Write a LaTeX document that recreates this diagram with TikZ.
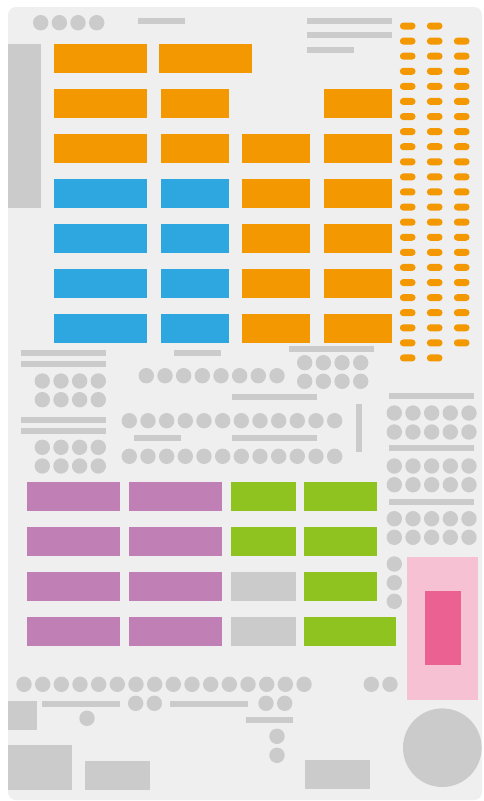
\documentclass[tikz,border=0pt]{standalone}
\usepackage{tikz}
\definecolor{boardgray}{HTML}{EFEFEF}
\definecolor{partgray}{HTML}{CACBCA}
\definecolor{ledorange}{HTML}{F39800}
\definecolor{keyblue}{HTML}{2EA7E0}
\definecolor{keypurple}{HTML}{C080B6}
\definecolor{keygreen}{HTML}{8FC31F}
\definecolor{lightpink}{HTML}{F6C2D3}
\definecolor{hotpink}{HTML}{EB6192}
\newcommand{\padrow}[3]{\foreach \k in {0,...,#3} \fill[partgray] (#1+18.67*\k,#2) circle(7.7pt);}
\newcommand{\silkbar}[3]{\fill[partgray] (#1,#2) rectangle (#3,#2+6);}

\begin{document}
\begin{tikzpicture}[x=1pt,y=-1pt]
	\useasboundingbox (0,0) rectangle (483,801);
	\fill[white] (0,0) rectangle (483,801);
	\fill[boardgray,rounded corners=8pt] (8,7) rectangle (482,800);
	\fill[partgray] (8,44) rectangle (41,208);
	\padrow{40.7}{22.7}{3}
	\silkbar{138}{18}{185}
	\silkbar{307}{18}{392} \silkbar{307}{32}{392} \silkbar{307}{47}{354}
    \fill[ledorange] (54,44) rectangle ++(93,28.7);
    \fill[ledorange] (159,44) rectangle ++(93,28.7);
    \fill[ledorange] (54,89) rectangle ++(93,28.7);
    \fill[ledorange] (161,89) rectangle ++(68,28.7);
    \fill[ledorange] (324,89) rectangle ++(68,28.7);
    \fill[ledorange] (54,134) rectangle ++(93,28.7);
    \fill[ledorange] (161,134) rectangle ++(68,28.7);
	\foreach \y in {179,224,...,314} {
      \fill[keyblue] (54,\y) rectangle ++(93,28.7);
      \fill[keyblue] (161,\y) rectangle ++(68,28.7);
    }
	\foreach \y in {134,179,...,314} {
      \fill[ledorange] (242,\y) rectangle ++(68,28.7);
      \fill[ledorange] (324,\y) rectangle ++(68,28.7);
    }
	\foreach \i in {0,...,22} {
	  \foreach \x in {407.7,434.7} \fill[ledorange,rounded corners=3.5pt] (\x-7.85,26+15.09*\i-3.5) rectangle ++(15.7,7);
	  \ifnum\i>0 \ifnum\i<22 \fill[ledorange,rounded corners=3.5pt] (461.7-7.85,26+15.09*\i-3.5) rectangle ++(15.7,7); \fi\fi
	}
	\silkbar{21}{350}{106} \silkbar{21}{361}{106}
	\silkbar{174}{350}{221}
	\silkbar{289}{346}{374}
	\padrow{42.3}{381}{3} \padrow{42.3}{399.7}{3}
	\padrow{146.3}{375.7}{7}
	\padrow{304.7}{362.7}{3} \padrow{304.7}{381.3}{3}
	\silkbar{232}{394}{317}
	\silkbar{389}{393}{474}
	\silkbar{21}{417}{106} \silkbar{21}{428}{106}
	\padrow{42.3}{447.3}{3} \padrow{42.3}{466}{3}
	\padrow{129.3}{420.7}{11} \padrow{129.3}{456.3}{11}
	\silkbar{134}{435}{181} \silkbar{232}{435}{317}
	\fill[partgray] (356,404) rectangle (361.7,451.7);
	\padrow{394.3}{413}{4} \padrow{394.3}{432}{4}
	\silkbar{389}{445}{474}
	\padrow{394.3}{466}{4} \padrow{394.3}{484.7}{4}
	\silkbar{389}{499}{474}
	\padrow{394.3}{518.7}{4} \padrow{394.3}{537.3}{4}
	\foreach \y in {564,582.7,601.3} \fill[partgray] (394.3,\y) circle(7.7pt);
	\foreach \y in {482,527,572,617} {
      \fill[keypurple] (27,\y) rectangle ++(93,28.7);
      \fill[keypurple] (129,\y) rectangle ++(93,28.7);
    }
	\fill[keygreen] (231,482) rectangle ++(65,28.7);
	\fill[keygreen] (231,527) rectangle ++(65,28.7);
	\fill[partgray] (231,572) rectangle ++(65,28.7);
	\fill[partgray] (231,617) rectangle ++(65,28.7);
	\fill[keygreen] (304,482) rectangle ++(73,28.7);
	\fill[keygreen] (304,527) rectangle ++(73,28.7);
	\fill[keygreen] (304,572) rectangle ++(73,28.7);
	\fill[keygreen] (304,617) rectangle ++(92,28.7);
	\fill[lightpink] (407,557) rectangle (478,699.7);
	\fill[hotpink] (425,591) rectangle (461,664.7);
	\padrow{24}{684.3}{15}
	\padrow{371.3}{684.3}{1}
	\padrow{135.7}{703.3}{1} \padrow{266}{703.3}{1}
	\silkbar{42}{701}{120} \silkbar{170}{701}{248} \silkbar{246}{717}{293}
	\fill[partgray] (87,718.3) circle(7.7pt);
	\fill[partgray] (277,736.3) circle(7.7pt);
	\fill[partgray] (277,755.3) circle(7.7pt);
	\fill[partgray] (8,701) rectangle (37,729.7);
	\fill[partgray] (8,745) rectangle (72,789.7);
	\fill[partgray] (85,761) rectangle (150,789.7);
	\fill[partgray] (305,760) rectangle (370,788.7);
	\fill[partgray] (442.3,747.7) circle(39.3pt);
\end{tikzpicture}
\end{document}
